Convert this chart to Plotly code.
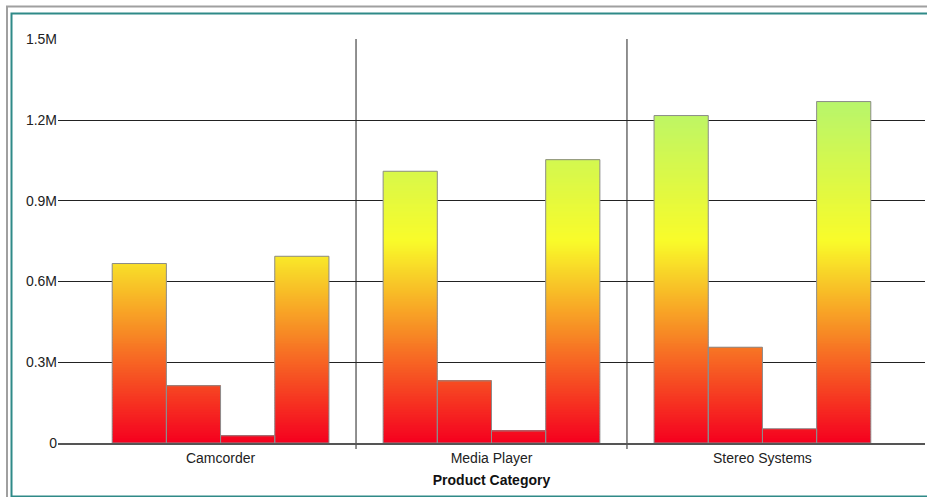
import plotly.graph_objects as go

categories = ["Camcorder", "Media Player", "Stereo Systems"]
series_names = ["Series 1", "Series 2", "Series 3", "Series 4"]
series_values = [
    [667000, 1010000, 1217000],
    [213000, 231000, 356000],
    [27000, 45000, 53000],
    [694000, 1053000, 1269000],
]
y_tickvals = [0, 300000, 600000, 900000, 1200000, 1500000]
y_ticktext = ["0", "0.3M", "0.6M", "0.9M", "1.2M", "1.5M"]
y_max = 1500000

colorscale = [[0.0, "#f5001f"], [0.5, "#f9fb2a"], [1.0, "#9af388"]]
n_slices = 250
step = y_max / n_slices

fig = go.Figure()

# gradient fill: each bar is built from thin stacked slices coloured by value
for i, (name, vals) in enumerate(zip(series_names, series_values)):
    xs, bases, heights, cols = [], [], [], []
    for cat, v in zip(categories, vals):
        k = 0
        while k * step < v:
            b = k * step
            top = min(v, (k + 1.5) * step)
            xs.append(cat)
            bases.append(b)
            heights.append(top - b)
            cols.append((k + 0.5) * step)
            k += 1
    fig.add_trace(go.Bar(
        x=xs, y=heights, base=bases, offsetgroup=str(i), name=name,
        marker=dict(color=cols, colorscale=colorscale, cmin=0, cmax=y_max,
                    line=dict(width=0)),
        showlegend=False, hoverinfo="skip",
    ))

# outlines
for i, (name, vals) in enumerate(zip(series_names, series_values)):
    fig.add_trace(go.Bar(
        x=categories, y=vals, offsetgroup=str(i), name=name,
        marker=dict(color="rgba(0,0,0,0)", line=dict(color="#8c8c8c", width=1)),
        showlegend=False,
    ))

L, R, T, B = 58, 2, 39, 54
W, H = 927, 497
pw, ph = W - L - R, H - T - B

def px(xp):
    return (xp - L) / pw

def py(yp):
    return (H - B - yp) / ph

shapes = []
for j in range(len(categories) - 1):
    shapes.append(dict(type="line", xref="x", yref="paper", x0=j + 0.5, x1=j + 0.5,
                       y0=-6 / ph, y1=1, line=dict(color="#222222", width=1), layer="below"))
shapes.append(dict(type="rect", xref="paper", yref="paper",
                   x0=px(7), x1=px(935), y0=py(6.5), y1=py(505),
                   line=dict(color="#a0a0a0", width=2), fillcolor="rgba(0,0,0,0)", layer="below"))
shapes.append(dict(type="rect", xref="paper", yref="paper",
                   x0=px(11.5), x1=px(935), y0=py(13.5), y1=py(496.5),
                   line=dict(color="#2f8a88", width=2), fillcolor="rgba(0,0,0,0)", layer="below"))

fig.update_layout(
    width=W, height=H,
    margin=dict(l=L, r=R, t=T, b=B),
    paper_bgcolor="white", plot_bgcolor="white",
    barmode="group", bargap=0.2, bargroupgap=0,
    font=dict(family="Liberation Sans, Arial, sans-serif", size=14, color="#222222"),
    shapes=shapes,
    xaxis=dict(
        range=[-0.6, len(categories) - 0.4], showgrid=False, ticks="",
        showline=True, linecolor="#555555", linewidth=2,
        tickfont=dict(size=14, color="#222222"), ticklabelstandoff=1,
        title=dict(text="Product Category", font=dict(size=14, color="#111111", weight="bold"),
                   standoff=10),
        fixedrange=True,
    ),
    yaxis=dict(
        range=[0, y_max * 1.001], tickmode="array", tickvals=y_tickvals, ticktext=y_ticktext,
        showgrid=True, gridcolor="#222222", gridwidth=1, zeroline=False,
        ticks="", tickfont=dict(size=14, color="#222222"), fixedrange=True,
    ),
)

fig.write_html("out.html", config={"displayModeBar": False},
               post_script="document.body.style.margin='0';")
